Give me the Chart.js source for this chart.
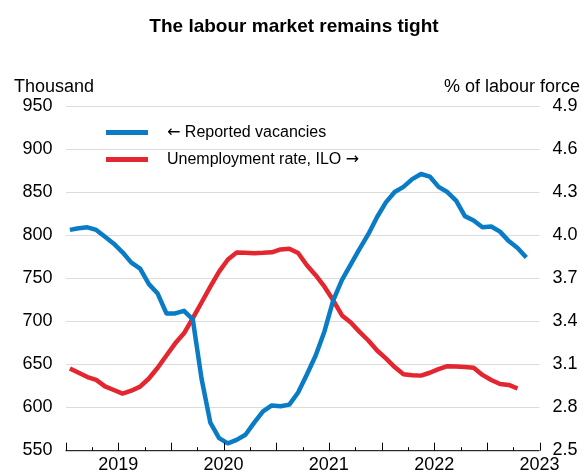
<!DOCTYPE html>
<html>
<head>
<meta charset="utf-8">
<title>The labour market remains tight</title>
<script src="https://cdn.jsdelivr.net/npm/chart.js@4.4.1/dist/chart.umd.min.js"></script>
<style>
  html, body { margin: 0; padding: 0; background: #fff; }
  #wrap { width: 585px; height: 474px; }
</style>
</head>
<body>
<div id="wrap"><canvas id="labourChart" width="585" height="474"></canvas></div>
<script>
// Monthly observations (3-month periods ending in month), Jul 2018 - Nov 2022
const months = [
  '2018-07', '2018-08', '2018-09', '2018-10', '2018-11', '2018-12',
  '2019-01', '2019-02', '2019-03', '2019-04', '2019-05', '2019-06',
  '2019-07', '2019-08', '2019-09', '2019-10', '2019-11', '2019-12',
  '2020-01', '2020-02', '2020-03', '2020-04', '2020-05', '2020-06',
  '2020-07', '2020-08', '2020-09', '2020-10', '2020-11', '2020-12',
  '2021-01', '2021-02', '2021-03', '2021-04', '2021-05', '2021-06',
  '2021-07', '2021-08', '2021-09', '2021-10', '2021-11', '2021-12',
  '2022-01', '2022-02', '2022-03', '2022-04', '2022-05', '2022-06',
  '2022-07', '2022-08', '2022-09', '2022-10', '2022-11'
];

// Reported vacancies, thousands (left axis)
const vacancies = [
  806, 808, 809, 806, 798, 790,
  780, 768, 761, 743, 732, 709,
  709, 712, 702, 633, 582, 564,
  558, 562, 568, 582, 595, 602,
  601, 603, 617, 638, 660, 688,
  724, 748, 766, 784, 801, 821,
  838, 850, 856, 865, 871, 868,
  856, 850, 840, 822, 817, 809,
  810, 804, 793, 785, 774
];

// Unemployment rate (ILO), % of labour force (right axis), to Oct 2022
const unemployment = [
  3.07, 3.04, 3.01, 2.99, 2.945, 2.92,
  2.895, 2.915, 2.943, 3.0, 3.075, 3.16,
  3.245, 3.315, 3.42, 3.53, 3.64, 3.745,
  3.83, 3.878, 3.876, 3.874, 3.876, 3.88,
  3.90, 3.905, 3.875, 3.79, 3.72, 3.64,
  3.545, 3.44, 3.39, 3.325, 3.265, 3.195,
  3.14, 3.08, 3.03, 3.023, 3.02, 3.04,
  3.065, 3.086, 3.084, 3.08, 3.075, 3.025,
  2.99, 2.962, 2.955, 2.93
];

const yearTicks = [2019, 2020, 2021, 2022, 2023];
const xStart = 2018.5;
const xEnd = 2023;

const FONT = "'Liberation Sans', Arial, Helvetica, sans-serif";
const ARROW_FONT = "'DejaVu Sans', sans-serif";
const BLUE = '#0a7cc6';
const RED = '#e32630';

// month string -> decimal year at mid-month
function monthToX(m) {
  const [y, mo] = m.split('-').map(Number);
  return y + (mo - 1) / 12 + 1 / 24;
}

const vacPoints = vacancies.map((v, i) => ({ x: monthToX(months[i]), y: v }));
const unempPoints = unemployment.map((v, i) => ({ x: monthToX(months[i]), y: v }));

// draw a run of text pieces, each with its own font
function drawPieces(ctx, pieces, x, y) {
  pieces.forEach(p => {
    ctx.font = p.font;
    ctx.fillText(p.text, x, y);
    x += ctx.measureText(p.text).width;
  });
}

/**
 * Title, axis units, inline legend and the x axis line with quarterly ticks
 */
const decorations = {
  id: 'decorations',
  afterDraw(chart) {
    const { ctx, chartArea, scales } = chart;
    ctx.save();

    // Title
    ctx.fillStyle = '#000';
    ctx.font = `bold 19px ${FONT}`;
    ctx.textAlign = 'center';
    ctx.textBaseline = 'alphabetic';
    ctx.fillText('The labour market remains tight', 294, 31.5);

    // Axis units
    ctx.font = `18px ${FONT}`;
    ctx.textAlign = 'left';
    ctx.fillText('Thousand', 14, 91.5);
    ctx.textAlign = 'right';
    ctx.fillText('% of labour force', 580, 91.5);

    // Legend
    const txt = `16px ${FONT}`;
    const arr = `16px ${ARROW_FONT}`;
    const items = [
      { pieces: [{ text: '\u2190', font: arr }, { text: ' Reported vacancies', font: txt }], color: BLUE, y: 132.5 },
      { pieces: [{ text: 'Unemployment rate, ILO ', font: txt }, { text: '\u2192', font: arr }], color: RED, y: 159.5 }
    ];
    ctx.textAlign = 'left';
    ctx.textBaseline = 'middle';
    items.forEach(item => {
      ctx.strokeStyle = item.color;
      ctx.lineWidth = 5;
      ctx.lineCap = 'butt';
      ctx.beginPath();
      ctx.moveTo(106, item.y);
      ctx.lineTo(148, item.y);
      ctx.stroke();
      ctx.fillStyle = '#000';
      drawPieces(ctx, item.pieces, 167, item.y);
    });

    // X axis line and ticks (long every half year, short every quarter)
    const x = scales.x;
    const bottom = chartArea.bottom + 0.5;
    ctx.strokeStyle = '#000';
    ctx.lineWidth = 1;
    ctx.beginPath();
    ctx.moveTo(chartArea.left, bottom);
    ctx.lineTo(chartArea.right, bottom);
    for (let q = xStart; q <= xEnd + 0.001; q += 0.25) {
      const px = Math.round(x.getPixelForValue(q)) + 0.5;
      const isHalf = Math.abs(q * 2 - Math.round(q * 2)) < 0.001;
      ctx.moveTo(px, bottom);
      ctx.lineTo(px, bottom - (isHalf ? 8 : 3.5));
    }
    ctx.stroke();

    ctx.restore();
  }
};

new Chart(document.getElementById('labourChart'), {
  type: 'line',
  data: {
    datasets: [
      {
        label: '\u2190 Reported vacancies',
        data: vacPoints,
        yAxisID: 'y',
        borderColor: BLUE,
        borderWidth: 4.5,
        pointRadius: 0,
        tension: 0,
        borderJoinStyle: 'round',
        borderCapStyle: 'butt'
      },
      {
        label: 'Unemployment rate, ILO \u2192',
        data: unempPoints,
        yAxisID: 'y1',
        borderColor: RED,
        borderWidth: 4.5,
        pointRadius: 0,
        tension: 0,
        borderJoinStyle: 'round',
        borderCapStyle: 'butt'
      }
    ]
  },
  options: {
    responsive: false,
    animation: false,
    devicePixelRatio: 1,
    layout: { padding: { top: 106, left: 0, right: 0, bottom: 0 } },
    plugins: {
      legend: { display: false },
      title: { display: false },
      tooltip: { enabled: false }
    },
    scales: {
      x: {
        type: 'linear',
        min: xStart,
        max: xEnd,
        afterBuildTicks: scale => {
          scale.ticks = yearTicks.map(v => ({ value: v }));
        },
        afterFit: scale => { scale.height = 22; },
        grid: { display: false, drawTicks: false },
        border: { display: false },
        ticks: {
          autoSkip: false,
          maxRotation: 0,
          padding: 4,
          color: '#000',
          font: { family: FONT, size: 18 },
          callback: v => String(v)
        }
      },
      y: {
        position: 'left',
        min: 550,
        max: 950,
        afterFit: scale => { scale.width = 65.5; },
        grid: { color: '#dcdcdc', lineWidth: 1, drawTicks: false },
        border: { display: false },
        ticks: {
          stepSize: 50,
          padding: 13,
          color: '#000',
          font: { family: FONT, size: 18 }
        }
      },
      y1: {
        position: 'right',
        min: 2.5,
        max: 4.9,
        afterFit: scale => { scale.width = 45.5; },
        grid: { display: false, drawTicks: false },
        border: { display: false },
        ticks: {
          stepSize: 0.3,
          padding: 13,
          color: '#000',
          font: { family: FONT, size: 18 },
          callback: v => v.toFixed(1)
        }
      }
    }
  },
  plugins: [decorations]
});
</script>
</body>
</html>
